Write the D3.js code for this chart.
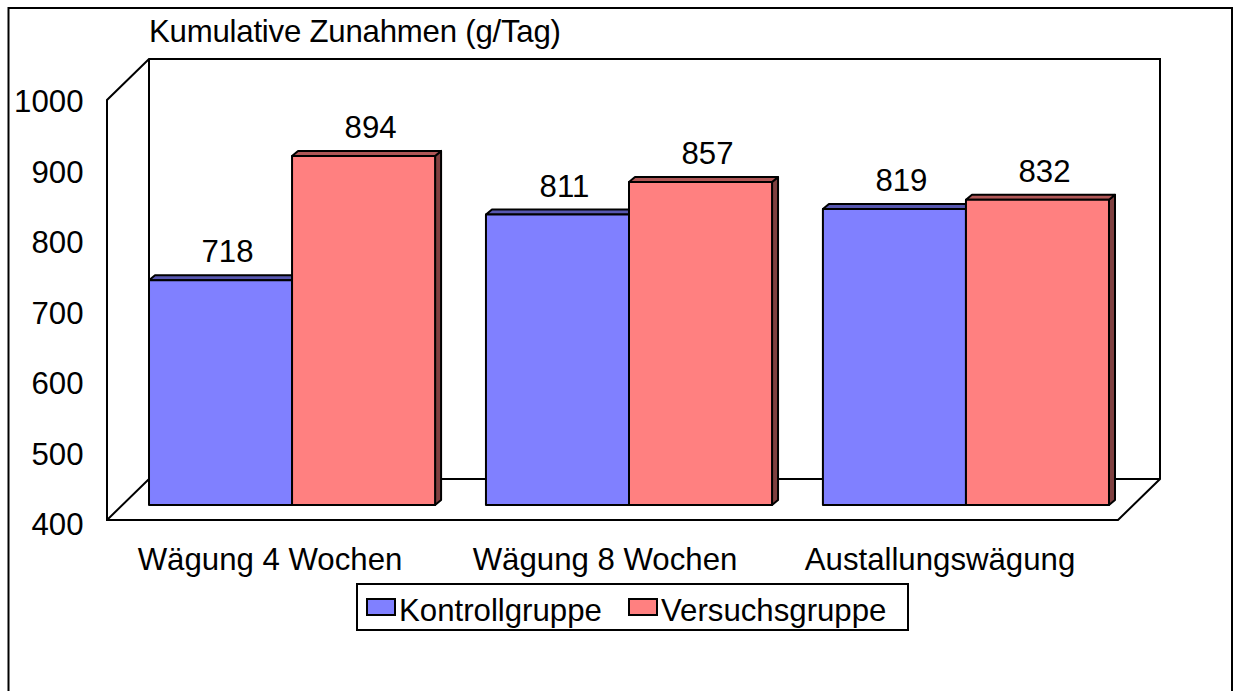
<!DOCTYPE html>
<html>
<head>
<meta charset="utf-8">
<script src="https://cdn.jsdelivr.net/npm/d3@7"></script>
<style>
  html, body { margin: 0; padding: 0; background: #fff; overflow: hidden; }
  text { font-family: "Liberation Sans", Arial, sans-serif; fill: #000; }
</style>
</head>
<body>
<div id="drawing"></div>
<script>
const categories = ["Wägung 4 Wochen", "Wägung 8 Wochen", "Austallungswägung"];
const seriesNames = ["Kontrollgruppe", "Versuchsgruppe"];
const kontrollValues = [718, 811, 819];
const versuchValues = [894, 857, 832];
const tickValues = [400, 500, 600, 700, 800, 900, 1000];
const chartTitle = "Kumulative Zunahmen (g/Tag)";

const fills = ["#8080ff", "#ff8080"];
const topFills = ["#5757b0", "#b05757"];
const sideFills = ["#40407f", "#7f4040"];

const depth = { floorX: 42, floorY: 41, barX: 6, barY: 5 };
const fontSize = 31.2;
const lineWidth = 2;

const svg = d3
  .select("#drawing")
  .append("svg")
  .attr("width", 1233)
  .attr("height", 691);

// outer frame, runs off the bottom of the picture
svg
  .append("rect")
  .attr("x", 8.5)
  .attr("y", 8)
  .attr("width", 1223.5)
  .attr("height", 700)
  .attr("fill", "#fff")
  .attr("stroke", "#000")
  .attr("stroke-width", lineWidth);

// axis scale sits on the front edge, the bars on a plane a bit further back
const yAxisScale = d3.scaleLinear().domain([400, 1000]).range([520, 100]);
const yBar = d3.scaleLinear().domain([400, 1000]).range([505, 81]);
// tick text baselines are spaced a little wider than the axis itself
const yTickText = d3.scaleLinear().domain([400, 1000]).range([535, 112]);

const xBand = d3
  .scaleBand()
  .domain(categories)
  .range([123.5, 1134.5])
  .paddingInner(0.151)
  .paddingOuter(0.0757);

const xSeries = d3
  .scaleBand()
  .domain(seriesNames)
  .range([0, xBand.bandwidth()]);

const xLabel = d3.scalePoint().domain(categories).range([270, 940]);

// walls and floor
const frontLeft = 107;
const frontRight = 1118;
const yFloor = yAxisScale(400);
const yTop = yAxisScale(1000);
const wall = svg
  .append("g")
  .attr("fill", "none")
  .attr("stroke", "#000")
  .attr("stroke-width", lineWidth)
  .attr("stroke-linejoin", "miter");

const wallPath = d3.path();
wallPath.moveTo(frontLeft, yFloor);
wallPath.lineTo(frontLeft, yTop);
wallPath.lineTo(frontLeft + depth.floorX, yTop - depth.floorY);
wallPath.lineTo(frontRight + depth.floorX, yTop - depth.floorY);
wallPath.lineTo(frontRight + depth.floorX, yFloor - depth.floorY);
wallPath.lineTo(frontRight, yFloor);
wallPath.closePath();
wallPath.moveTo(frontLeft, yFloor);
wallPath.lineTo(frontLeft + depth.floorX, yFloor - depth.floorY);
wallPath.lineTo(frontRight + depth.floorX, yFloor - depth.floorY);
wallPath.moveTo(frontLeft + depth.floorX, yFloor - depth.floorY);
wallPath.lineTo(frontLeft + depth.floorX, yTop - depth.floorY);
wall.append("path").attr("d", wallPath.toString());

// tick labels
svg
  .selectAll("text.tick-label")
  .data(tickValues)
  .enter()
  .append("text")
  .attr("class", "tick-label")
  .attr("x", 83.5)
  .attr("y", (d) => yTickText(d))
  .attr("text-anchor", "end")
  .attr("font-size", fontSize)
  .text((d) => d);

svg
  .append("text")
  .attr("x", 149)
  .attr("y", 42)
  .attr("font-size", fontSize)
  .attr("textLength", 412)
  .text(chartTitle);

// one row per bar, built from the series arrays
const bars = categories.flatMap((c, i) => [
  { category: c, series: 0, value: kontrollValues[i] },
  { category: c, series: 1, value: versuchValues[i] },
]);

const barX = (d) => xBand(d.category) + xSeries(seriesNames[d.series]);
const barG = svg
  .selectAll("g.bar")
  .data(bars)
  .enter()
  .append("g")
  .attr("class", "bar")
  .attr("stroke", "#000")
  .attr("stroke-width", lineWidth)
  .attr("stroke-linejoin", "round");

// side face
barG
  .append("path")
  .attr("fill", (d) => sideFills[d.series])
  .attr("d", (d) => {
    const r = barX(d) + xSeries.bandwidth();
    const p = d3.path();
    p.moveTo(r, yBar(d.value));
    p.lineTo(r + depth.barX, yBar(d.value) - depth.barY);
    p.lineTo(r + depth.barX, yBar(400) - depth.barY);
    p.lineTo(r, yBar(400));
    p.closePath();
    return p.toString();
  });

// top face
barG
  .append("path")
  .attr("fill", (d) => topFills[d.series])
  .attr("d", (d) => {
    const l = barX(d);
    const r = l + xSeries.bandwidth();
    const t = yBar(d.value);
    const p = d3.path();
    p.moveTo(l, t);
    p.lineTo(l + depth.barX, t - depth.barY);
    p.lineTo(r + depth.barX, t - depth.barY);
    p.lineTo(r, t);
    p.closePath();
    return p.toString();
  });

// front face
barG
  .append("rect")
  .attr("x", barX)
  .attr("y", (d) => yBar(d.value))
  .attr("width", xSeries.bandwidth())
  .attr("height", (d) => yBar(400) - yBar(d.value))
  .attr("fill", (d) => fills[d.series]);

// value labels
svg
  .selectAll("text.value-label")
  .data(bars)
  .enter()
  .append("text")
  .attr("class", "value-label")
  .attr("x", (d) => barX(d) + xSeries.bandwidth() / 2 + 7)
  .attr("y", (d) => yBar(d.value) - 18)
  .attr("text-anchor", "middle")
  .attr("font-size", fontSize)
  .text((d) => d.value);

// category labels
svg
  .selectAll("text.cat-label")
  .data(categories)
  .enter()
  .append("text")
  .attr("class", "cat-label")
  .attr("x", (d) => xLabel(d))
  .attr("y", 570)
  .attr("text-anchor", "middle")
  .attr("font-size", fontSize)
  .text((d) => d);

// legend
const legend = svg.append("g");
legend
  .append("rect")
  .attr("x", 357)
  .attr("y", 584)
  .attr("width", 551)
  .attr("height", 46)
  .attr("fill", "#fff")
  .attr("stroke", "#000")
  .attr("stroke-width", lineWidth);

const legendSwatchX = d3.scaleOrdinal().domain(seriesNames).range([367, 629]);
const legendItem = legend
  .selectAll("g.item")
  .data(seriesNames)
  .enter()
  .append("g")
  .attr("class", "item");

legendItem
  .append("rect")
  .attr("x", (d) => legendSwatchX(d))
  .attr("y", 599)
  .attr("width", 28)
  .attr("height", 16)
  .attr("fill", (d, i) => fills[i])
  .attr("stroke", "#000")
  .attr("stroke-width", lineWidth);

legendItem
  .append("text")
  .attr("x", (d) => legendSwatchX(d) + 32)
  .attr("y", 621)
  .attr("font-size", fontSize)
  .text((d) => d);
</script>
</body>
</html>
